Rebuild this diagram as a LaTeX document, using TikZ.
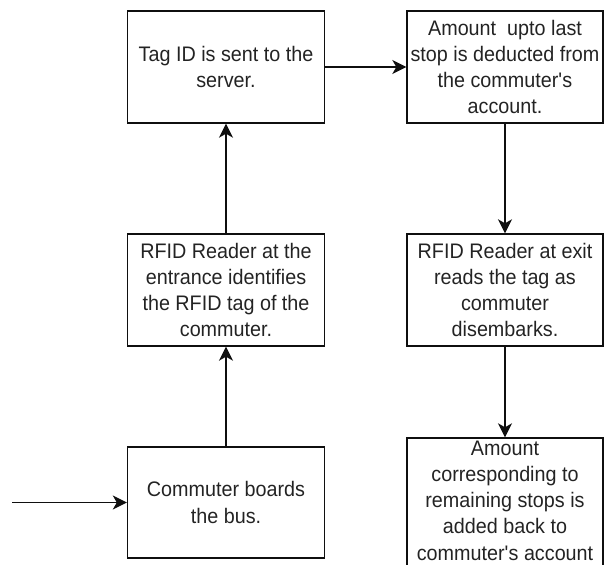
\documentclass[tikz,border=0pt]{standalone}
\usepackage{fontspec}
\setmainfont{Liberation Sans}[FakeStretch=0.94]
\usetikzlibrary{arrows.meta}
\definecolor{txt}{RGB}{35,35,35}
\definecolor{ln}{RGB}{15,15,15}
\tikzset{
  box/.style={draw=ln, line width=1.4bp, minimum width=197bp, minimum height=112bp,
    inner sep=1bp, align=center, text=txt,
    font=\fontsize{21.1pt}{26.4pt}\selectfont},
  flow/.style={draw=ln, line width=1.4bp, -{Stealth[length=14bp,width=14bp,inset=4bp]}}
}
\begin{document}
\begin{tikzpicture}[x=1bp,y=-1bp]
\useasboundingbox (0,0) rectangle (604,565);
\clip (0,0) rectangle (604,565);
\node[box] (tag) at (226,67) {Tag ID is sent to the\\server.};
\node[box, minimum width=196bp] (amt) at (505,67) {Amount~ upto last\\stop is deducted from\\the commuter\textquotesingle s\\account.};
\node[box] (rin) at (226,290) {RFID Reader at the\\entrance identifies\\the RFID tag of the\\commuter.};
\node[box, minimum width=196bp] (rex) at (505,290) {RFID Reader at exit\\reads the tag as\\commuter\\disembarks.};
\node[box, minimum height=111bp] (com) at (226,502.5) {Commuter boards\\the bus.};
\node[box, minimum width=196bp, minimum height=134bp, text depth=0pt] (back) at (505,505) {Amount\\corresponding to\\remaining stops is\\added back to\\commuter\textquotesingle s account\vspace{9bp}};
\coordinate (in) at (12,502.5);
\draw[flow] (in) -- (com.west);
\draw[flow] (com.north) -- (rin.south);
\draw[flow] (rin.north) -- (tag.south);
\draw[flow] (tag.east) -- (amt.west);
\draw[flow] (amt.south) -- (rex.north);
\draw[flow] (rex.south) -- (back.north);
\end{tikzpicture}
\end{document}
